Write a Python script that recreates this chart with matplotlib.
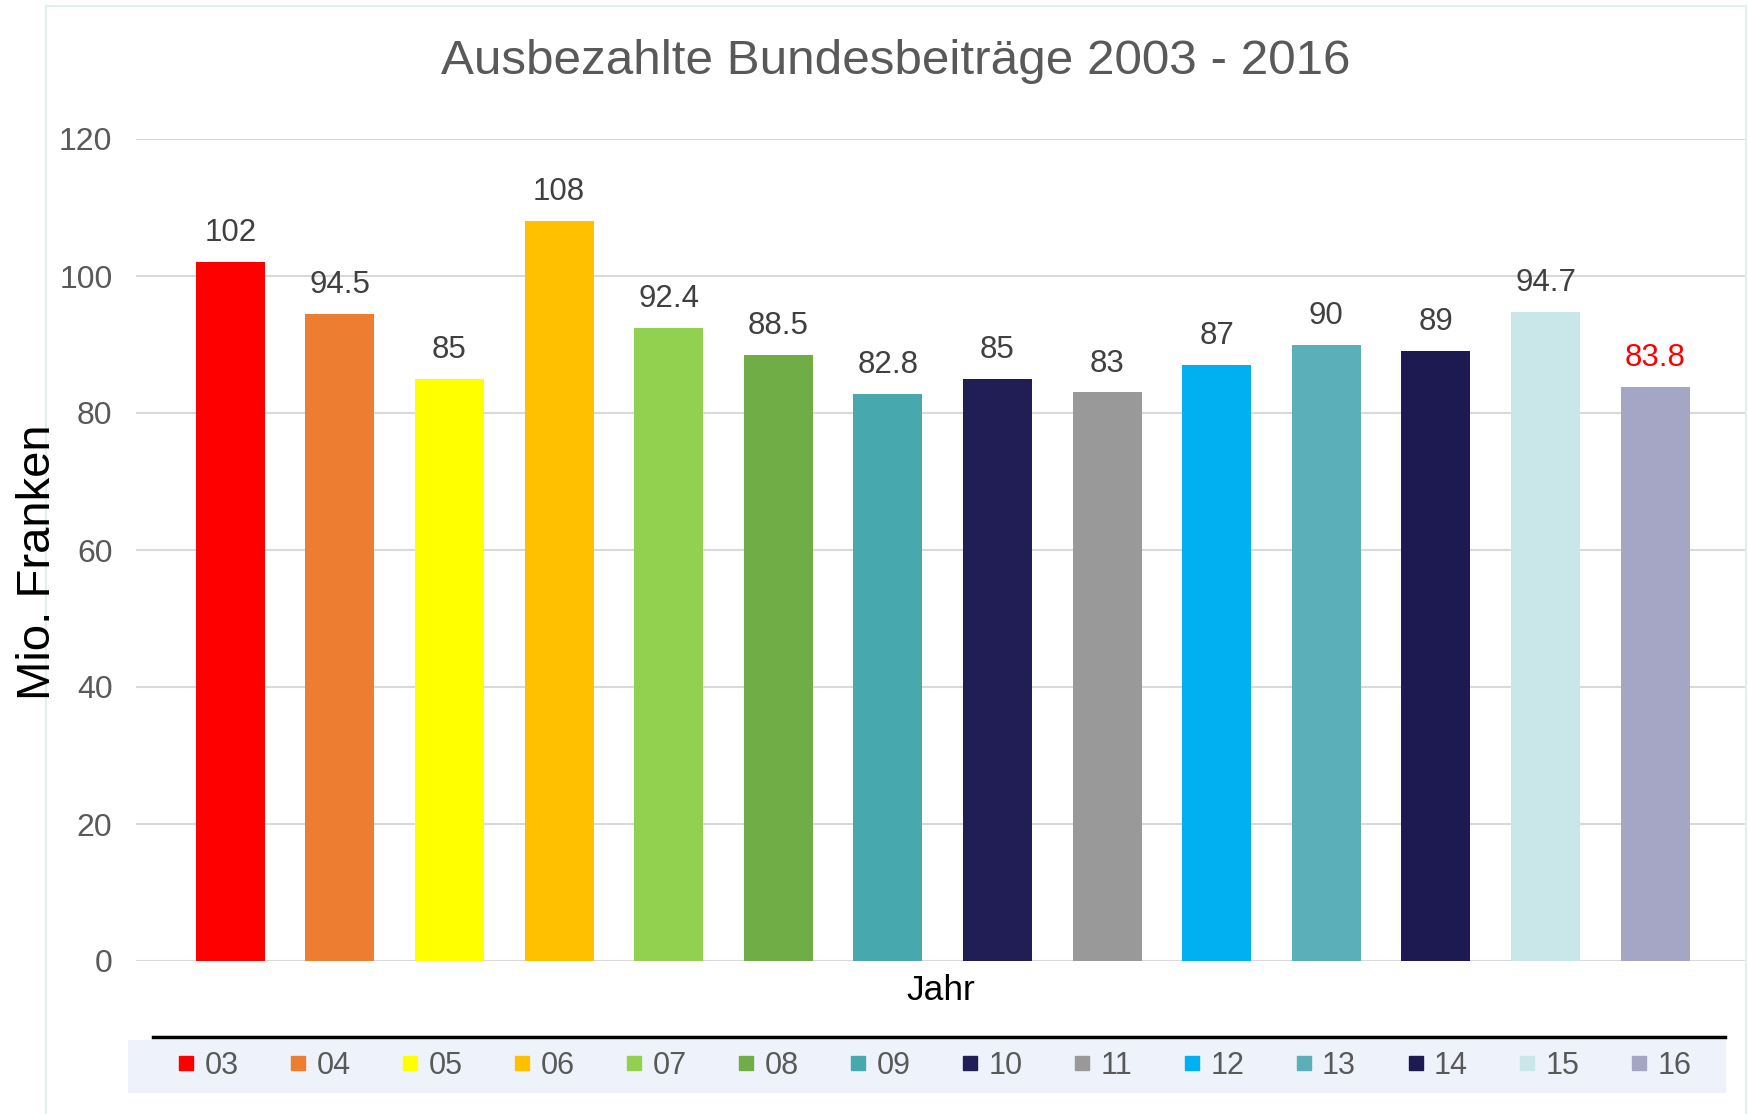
import matplotlib.pyplot as plt
from matplotlib.lines import Line2D
from matplotlib.patches import Rectangle

plt.rcParams['font.family'] = ['Liberation Sans', 'DejaVu Sans']

# Daten
jahre = ['03', '04', '05', '06', '07', '08', '09', '10', '11', '12', '13', '14', '15', '16']
beitraege = [102, 94.5, 85, 108, 92.4, 88.5, 82.8, 85, 83, 87, 90, 89, 94.7, 83.8]
label_texte = ['102', '94.5', '85', '108', '92.4', '88.5', '82.8', '85', '83', '87', '90', '89', '94.7', '83.8']
farben = ['#FF0000', '#ED7D31', '#FFFF00', '#FFC000', '#92D050', '#70AD47', '#47A8AE',
          '#201E55', '#999999', '#00B0F0', '#5BAFB8', '#1C1A50', '#C9E6E8', '#A5A5C6']
y_ticks = [0, 20, 40, 60, 80, 100, 120]

W, H = 1748, 1114
fig = plt.figure(figsize=(W / 100, H / 100), dpi=100)

# Rahmen des Diagramms (sehr hell)
fig.patches.append(Rectangle((46 / W, -0.01), (1746 - 46) / W, 1 - 6 / H + 0.01,
                             transform=fig.transFigure, fill=False,
                             edgecolor='#E3EEEE', linewidth=1.5))

ax = fig.add_axes([136 / W, 153 / H, (1745 - 136) / W, (961 - 139) / H])
x = list(range(len(jahre)))
bars = ax.bar(x, beitraege, width=0.63, color=farben, zorder=3)

# Datenbeschriftungen
for i, (b, t) in enumerate(zip(bars, label_texte)):
    farbe = '#FF0000' if i == len(jahre) - 1 else '#404040'
    ax.annotate(t, (b.get_x() + b.get_width() / 2, b.get_height()),
                xytext=(0, 10), textcoords='offset points',
                ha='center', va='bottom', fontsize=22.5, color=farbe)

ax.set_xlim(-0.86, 13.82)
ax.set_ylim(0, 120)
ax.set_yticks(y_ticks)
ax.set_xticks([])
ax.tick_params(axis='y', length=0, pad=17, labelsize=23, labelcolor='#595959')
ax.grid(axis='y', color='#D9D9D9', linewidth=1.5, zorder=0)
for s in ax.spines.values():
    s.set_visible(False)
ax.set_xlabel('Jahr', fontsize=25.5, color='black', labelpad=9)

fig.text(896 / W, 1 - 62 / H, 'Ausbezahlte Bundesbeiträge 2003 - 2016',
         ha='center', va='center', fontsize=35.6, color='#595959')
fig.text(38 / W, 1 - 562 / H, 'Mio. Franken', rotation=90,
         ha='center', va='center', fontsize=34, color='black')

# schwarze Linie und Legendenhintergrund
fig.add_artist(Line2D([153 / W, 1725 / W], [1 - 1037 / H, 1 - 1037 / H],
                      transform=fig.transFigure, color='black', linewidth=2.5))
fig.patches.append(Rectangle((128 / W, 1 - 1093 / H), (1726 - 128) / W, 53 / H,
                             transform=fig.transFigure, facecolor='#EEF3FB',
                             edgecolor='none'))

handles = [Line2D([], [], marker='s', linestyle='none', markersize=9.5,
                  markerfacecolor=c, markeredgecolor=c) for c in farben]
fig.legend(handles, jahre, loc='center', bbox_to_anchor=(935 / W, 1 - 1066 / H),
           ncol=len(jahre), frameon=False, fontsize=22, labelcolor='#595959',
           handlelength=0.5, handletextpad=0.35, columnspacing=1.7,
           borderpad=0, borderaxespad=0)

fig.savefig('out.png', dpi=100)
